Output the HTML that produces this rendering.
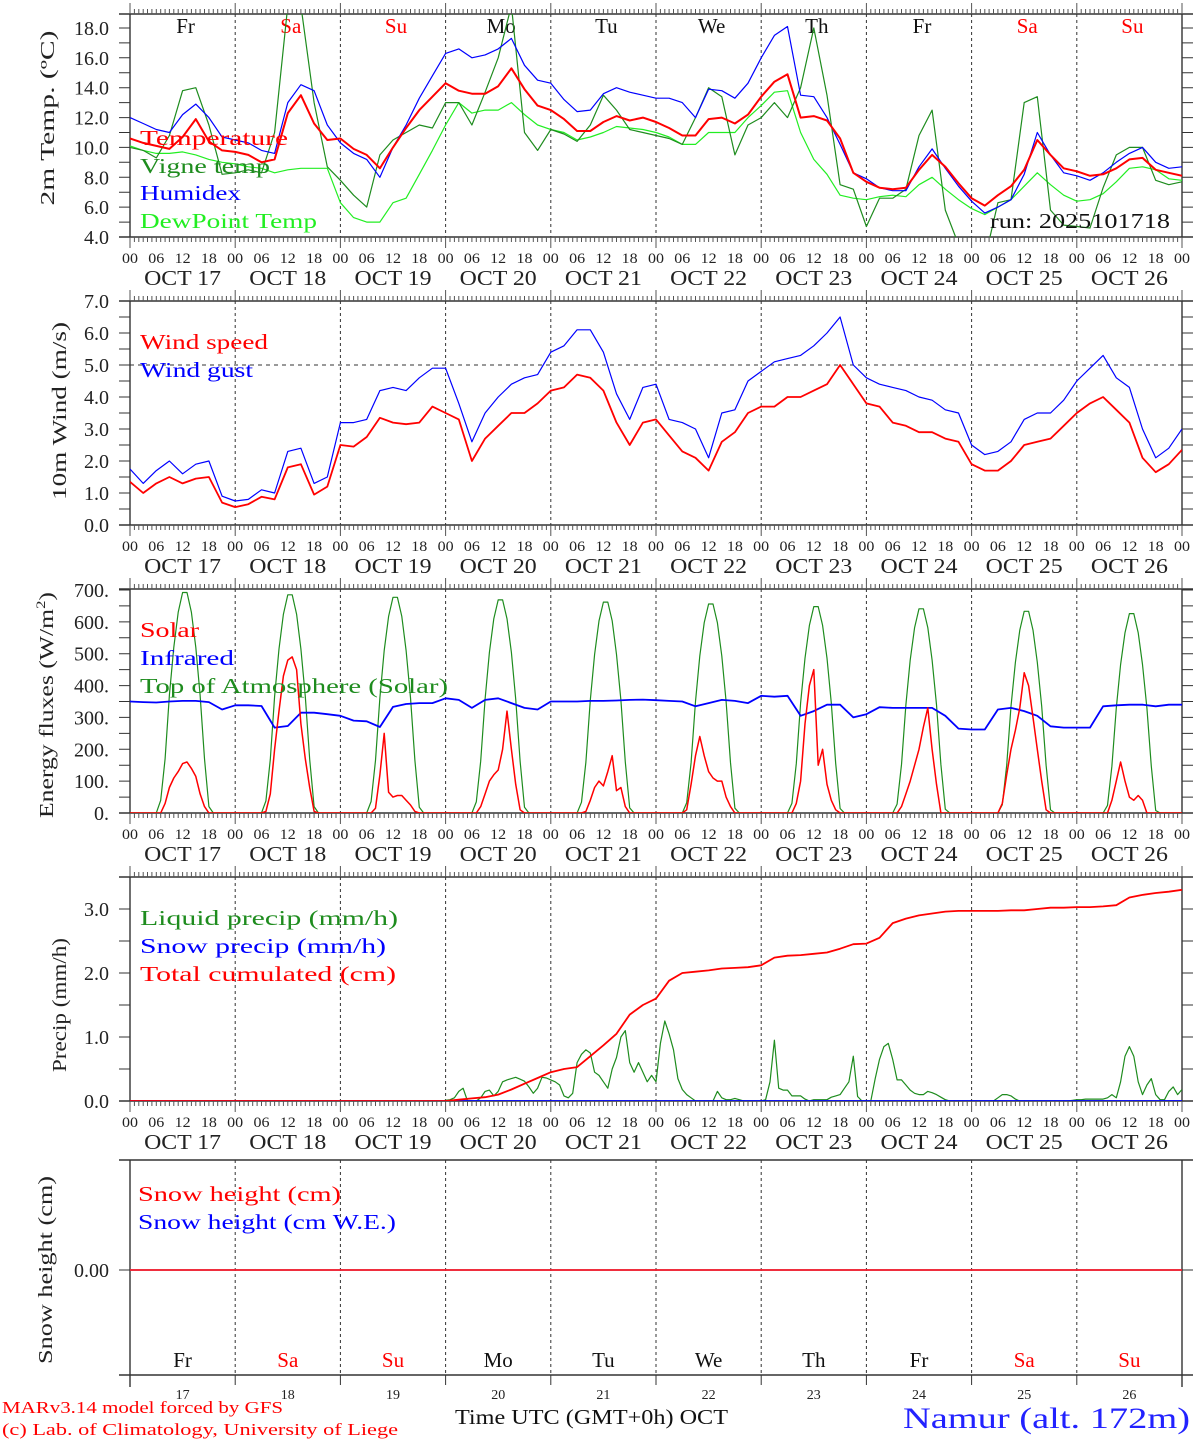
<!DOCTYPE html>
<html>
<head>
<meta charset="utf-8">
<style>
html,body{margin:0;padding:0;background:#fff;}
svg{display:block;font-family:"Liberation Serif",serif;}
</style>
</head>
<body>
<svg id="chart" width="1194" height="1440" viewBox="0 0 1194 1440" xmlns="http://www.w3.org/2000/svg">
<defs>
<clipPath id="c1"><rect x="130" y="14" width="1052" height="223"/></clipPath>
<clipPath id="c2"><rect x="130" y="301" width="1052" height="224"/></clipPath>
<clipPath id="c3"><rect x="130" y="589" width="1052" height="224"/></clipPath>
<clipPath id="c4"><rect x="130" y="877" width="1052" height="224"/></clipPath>
<clipPath id="c5"><rect x="130" y="1160" width="1052" height="215"/></clipPath>
</defs>
<rect x="0" y="0" width="1194" height="1440" fill="#fff"/>
</svg>
<script>
// ---- DATA (3-hourly, h = 0,3,...,240) ----
const dayNames = ['Fr','Sa','Su','Mo','Tu','We','Th','Fr','Sa','Su'];
const dayDates = ['17','18','19','20','21','22','23','24','25','26'];
const hourLabels = ['00','06','12','18'];
const temperature = [10.6,10.3,10.1,9.9,10.7,11.9,10.4,9.8, 9.7,9.5,9.0,9.2,12.3,13.5,11.6,10.5, 10.6,9.9,9.5,8.6,10.0,11.3,12.5,13.4, 14.3,13.8,13.6,13.6,14.1,15.3,13.9,12.8, 12.5,11.9,11.1,11.1,11.7,12.1,11.8,12.0, 11.7,11.3,10.8,10.8,11.9,12.0,11.6,12.2, 13.4,14.4,14.9,12.0,12.1,11.8,10.6,8.3, 7.7,7.3,7.2,7.3,8.5,9.5,8.7,7.6, 6.6,6.1,6.8,7.4,8.5,10.5,9.5,8.6, 8.4,8.1,8.2,8.6,9.2,9.3,8.5,8.3, 8.1];
const vigneTemp = [10.0,9.8,9.3,10.8,13.8,14.0,11.5,8.2, 8.3,8.5,8.3,11.0,19.5,19.5,13.0,8.7, 7.8,6.8,6.0,9.5,10.5,11.0,11.5,11.3, 13.0,13.0,11.5,13.7,16.0,19.5,11.0,9.8, 11.2,10.9,10.4,11.5,13.5,12.5,11.2,11.0, 10.8,10.6,10.2,12.0,14.0,13.4,9.5,11.5, 12.0,13.0,12.0,14.0,18.0,13.5,7.5,7.2, 4.7,6.6,6.6,7.2,10.8,12.5,5.8,3.5, 2.5,2.5,6.3,6.5,13.0,13.4,5.8,4.8, 4.7,4.6,7.3,9.5,10.0,10.0,7.8,7.5, 7.7];
const humidex = [12.0,11.6,11.2,11.0,12.2,12.9,12.0,10.7, 10.5,10.3,9.8,9.6,13.0,14.2,13.8,11.5, 10.3,9.6,9.2,8.0,10.0,11.5,13.3,14.8, 16.3,16.6,16.0,16.2,16.6,17.3,15.5,14.5, 14.3,13.2,12.4,12.5,13.6,14.0,13.7,13.5, 13.3,13.3,13.0,12.0,13.9,13.8,13.3,14.3, 16.0,17.5,18.1,13.5,13.4,12.0,10.2,8.3, 7.9,7.3,7.1,7.1,8.7,9.9,8.6,7.4, 6.4,5.6,6.0,6.5,8.2,11.0,9.5,8.3, 8.1,7.8,8.3,9.0,9.6,10.0,9.0,8.6, 8.7];
const dewPoint = [10.1,9.8,9.6,9.6,9.7,9.5,9.2,9.0, 8.9,8.7,8.6,8.3,8.5,8.6,8.6,8.6, 6.3,5.3,5.0,5.0,6.3,6.6,8.2,9.8, 11.5,13.0,12.3,12.5,12.5,13.0,12.2,11.5, 11.2,11.0,10.5,10.7,11.0,11.4,11.3,11.2, 11.0,10.7,10.2,10.2,11.0,11.0,11.0,12.0, 12.8,13.7,13.8,11.0,9.2,8.2,6.8,6.6, 6.5,6.7,6.8,6.7,7.5,8.0,7.2,6.5, 5.9,5.5,6.0,6.5,7.4,8.3,7.5,6.8, 6.4,6.5,6.9,7.7,8.6,8.7,8.5,7.9, 7.8];
const windSpeed = [1.35,1.0,1.3,1.5,1.3,1.45,1.5,0.7, 0.56,0.65,0.88,0.8,1.8,1.9,0.95,1.2, 2.5,2.45,2.75,3.35,3.2,3.15,3.2,3.7, 3.5,3.3,2.0,2.7,3.1,3.5,3.5,3.8, 4.2,4.3,4.7,4.6,4.2,3.2,2.5,3.2, 3.3,2.8,2.3,2.1,1.7,2.6,2.9,3.5, 3.7,3.7,4.0,4.0,4.2,4.4,5.0,4.4, 3.8,3.7,3.2,3.1,2.9,2.9,2.7,2.6, 1.9,1.7,1.7,2.0,2.5,2.6,2.7,3.1, 3.5,3.8,4.0,3.6,3.2,2.1,1.65,1.9, 2.35];
const windGust = [1.75,1.3,1.7,2.0,1.6,1.9,2.0,0.9, 0.75,0.8,1.1,1.0,2.3,2.4,1.3,1.5, 3.2,3.2,3.3,4.2,4.3,4.2,4.6,4.9, 4.9,3.8,2.6,3.5,4.0,4.4,4.6,4.7, 5.4,5.6,6.1,6.1,5.4,4.1,3.3,4.3, 4.4,3.3,3.2,3.0,2.1,3.5,3.6,4.5, 4.8,5.1,5.2,5.3,5.6,6.0,6.5,5.0, 4.6,4.4,4.3,4.2,4.0,3.9,3.6,3.5, 2.5,2.2,2.3,2.6,3.3,3.5,3.5,3.9, 4.5,4.9,5.3,4.6,4.3,3.0,2.1,2.4, 3.0];
const infrared = [350,348,347,350,352,352,348,325, 338,338,336,268,273,315,315,310, 305,290,288,270,333,342,345,345, 360,355,330,355,360,345,330,325, 350,350,350,352,352,353,355,356, 354,352,350,335,345,355,352,345, 368,365,368,305,320,340,340,300, 310,332,330,330,330,330,305,265, 262,262,325,330,320,305,272,268, 268,268,335,338,340,340,335,340, 340];
const totalCumulated = [0,0,0,0,0,0,0,0, 0,0,0,0,0,0,0,0, 0,0,0,0,0,0,0,0, 0,0.02,0.04,0.06,0.1,0.18,0.27,0.36, 0.45,0.5,0.53,0.7,0.87,1.05,1.35,1.5, 1.6,1.88,2.0,2.02,2.04,2.07,2.08,2.09, 2.12,2.24,2.27,2.28,2.3,2.32,2.38,2.45, 2.46,2.55,2.78,2.85,2.9,2.93,2.96,2.97, 2.97,2.97,2.97,2.98,2.98,3.0,3.02,3.02, 3.03,3.03,3.04,3.06,3.18,3.22,3.25,3.27, 3.3];
// hourly liquid precipitation, one row per day (h0..h23), plus final h240
const liquidD0 = [0,0,0,0,0,0,0,0,0,0,0,0,0,0,0,0,0,0,0,0,0,0,0,0];
const liquidD1 = [0,0,0,0,0,0,0,0,0,0,0,0,0,0,0,0,0,0,0,0,0,0,0,0];
const liquidD2 = [0,0,0,0,0,0,0,0,0,0,0,0,0,0,0,0,0,0,0,0,0,0,0,0];
const liquidD3 = [0.01,0.02,0.05,0.15,0.2,0,0,0,0.05,0.15,0.17,0.08,0.15,0.3,0.33,0.35,0.37,0.34,0.31,0.22,0.12,0.2,0.37,0.36];
const liquidD4 = [0.33,0.3,0.25,0.08,0.05,0.12,0.6,0.73,0.8,0.75,0.45,0.4,0.3,0.2,0.5,0.68,1.0,1.1,0.6,0.45,0.6,0.45,0.3,0.4];
const liquidD5 = [0.3,0.9,1.25,1.05,0.8,0.35,0.18,0.1,0.05,0,0,0,0,0,0.15,0.05,0.02,0.02,0.04,0.02,0,0,0,0];
const liquidD6 = [0,0.02,0.3,0.95,0.2,0.17,0.17,0.08,0.08,0.08,0.03,0,0.02,0.02,0.02,0.02,0.06,0.08,0.1,0.2,0.3,0.7,0.07,0];
const liquidD7 = [0,0,0.35,0.65,0.85,0.9,0.65,0.33,0.33,0.25,0.17,0.12,0.1,0.1,0.15,0.13,0.1,0.06,0.02,0,0,0,0,0];
const liquidD8 = [0,0,0,0,0,0,0.05,0.1,0.1,0.08,0.03,0,0,0,0,0,0,0,0,0,0,0,0,0.01];
const liquidD9 = [0.02,0.02,0.03,0.03,0.03,0.03,0.03,0.05,0.1,0.05,0.3,0.7,0.85,0.7,0.3,0.1,0.25,0.35,0.1,0.02,0.02,0.15,0.22,0.1];
const liquidLast = 0.18;
const snowPrecip = [0,0];   // flat zero series (start, end)
const snowHeight = [0,0];
// hourly solar / TOA values from 06 to 18 UTC for each day
const solarDays = [
 [0,0,30,80,110,130,155,160,140,115,60,20,0],
 [0,5,60,200,320,430,480,490,450,280,170,80,5],
 [0,0,15,120,250,65,50,55,55,40,25,5,0],
 [0,0,20,60,100,120,135,200,320,200,90,10,0],
 [0,0,5,40,80,100,85,130,180,70,80,20,0],
 [0,10,90,180,240,180,130,110,100,100,50,20,0],
 [0,0,30,100,280,400,450,150,200,90,40,10,0],
 [0,0,20,60,100,150,200,270,330,200,90,0,0],
 [0,30,120,200,260,330,440,400,300,200,100,10,0],
 [0,0,40,100,160,100,50,40,55,40,0,0,0]];
const toaDays = [
 [0,40,170,370,520,630,692,692,630,520,370,170,20],
 [0,38,168,366,515,624,685,685,624,515,366,168,20],
 [0,36,165,362,510,617,677,677,617,510,362,165,18],
 [0,35,163,358,504,610,669,669,610,504,358,163,18],
 [0,34,160,354,498,603,662,662,603,498,354,160,16],
 [0,32,158,350,493,597,656,656,597,493,350,158,15],
 [0,30,155,345,486,589,648,648,589,486,345,155,14],
 [0,28,152,340,480,582,641,641,582,480,340,152,12],
 [0,26,150,335,473,574,633,633,574,473,335,150,10],
 [0,24,147,330,466,566,626,626,566,466,330,147,8]];

const NS='http://www.w3.org/2000/svg';
const svg=document.getElementById('chart');
const X0=130, X1=1182;
function xh(h){return X0+h*(X1-X0)/240;}
const y1=v=>237-(v-4)*14.93;
const y2=v=>525-v*32;
const y3=v=>813-v*0.31857;
const y4=v=>1101-v*64;
const y5=v=>1270-v*100;
const panels=[{top:14,bot:237,clip:'c1'},{top:301,bot:525,clip:'c2'},{top:589,bot:813,clip:'c3'},{top:877,bot:1101,clip:'c4'},{top:1160,bot:1375,clip:'c5'}];

function mk(tag,attrs){const e=document.createElementNS(NS,tag);for(const k in attrs)e.setAttribute(k,attrs[k]);svg.appendChild(e);return e;}
function txt(x,y,s,o){o=o||{};const e=mk('text',{x:x,y:y,'font-size':o.size||19,fill:o.fill||'#222','text-anchor':o.anchor||'start'});
 if(o.len){e.setAttribute('textLength',o.len);e.setAttribute('lengthAdjust','spacingAndGlyphs');}
 if(o.rot){e.setAttribute('transform','rotate(-90 '+x+' '+y+')');}
 e.textContent=s;return e;}

function seriesPath(vals,step,ys,color,w,clip,name){
 let d='';vals.forEach((v,i)=>{d+=(i?'L':'M')+xh(i*step).toFixed(1)+' '+ys(v).toFixed(1);});
 const p=mk('path',{d:d,fill:'none',stroke:color,'stroke-width':w,'clip-path':'url(#'+clip+')','stroke-linejoin':'round'});
 
 
 return p;}
function expandDays(days){const out=[];for(let h=0;h<=240;h++)out.push(0);days.forEach((row,d)=>row.forEach((v,i)=>{out[d*24+6+i]=v;}));return out;}

// ---- frames, ticks, grid ----
const yScales=[y1,y2,y3,y4,y5];
const yTicks=[{from:4,to:18,step:1,lab:2,fmt:v=>v.toFixed(1)},{from:0,to:7,step:0.5,lab:1,fmt:v=>v.toFixed(1)},{from:0,to:700,step:50,lab:100,fmt:v=>v.toFixed(0)+'.'},{from:0,to:3.5,step:0.5,lab:1,fmt:v=>v.toFixed(1)},{from:0,to:0,step:1,lab:1,fmt:v=>v.toFixed(2)}];
panels.forEach((p,pi)=>{
 const ys=yScales[pi];
 for(let d=1;d<10;d++){const x=xh(d*24);
  const l=mk('line',{x1:x,y1:p.top,x2:x,y2:p.bot,stroke:'#333','stroke-width':1,'stroke-dasharray':'3,3'});
  
  }
 const fr=mk('path',{d:'M119 '+p.top+'H1193M119 '+p.bot+'H1193M130 '+(p.top)+'V'+(pi===4?p.bot+12:p.bot)+'M1182 '+p.top+'V'+(pi===4?p.bot+12:p.bot),stroke:'#333','stroke-width':1.4,fill:'none'});
 
 
 if(pi<4){
  for(let h=0;h<=240;h++){const x=xh(h);const L=(h%24===0)?11:5;
   const t=mk('path',{d:'M'+x.toFixed(1)+' '+p.bot+'v'+L+'M'+x.toFixed(1)+' '+p.top+'v'+(-L),stroke:'#555','stroke-width':1});
   
   }
  for(let h=0;h<=240;h+=6){const t=txt(xh(h),p.bot+26,hourLabels[(h/6)%4],{size:15,anchor:'middle',len:16});
   
   }
  dayDates.forEach((dd,d)=>{const t=txt(xh(d*24+12),p.bot+48,'OCT '+dd,{size:21,anchor:'middle',len:77});
   
   });
 } else {
  for(let d=0;d<=10;d++){const x=xh(d*24);
   const t=mk('line',{x1:x,y1:p.bot,x2:x,y2:p.bot+10,stroke:'#333','stroke-width':1});
   
   }
 }
 const yt=yTicks[pi];
 for(let v=yt.from;v<=yt.to+1e-9;v+=yt.step){const y=ys(v);
  const t=mk('path',{d:'M119 '+y.toFixed(1)+'H130M1182 '+y.toFixed(1)+'H1193',stroke:'#333','stroke-width':1});
  
  
  if(Math.abs(v/yt.lab-Math.round(v/yt.lab))<1e-6){const l=txt(109,y+7,yt.fmt(v),{size:20,anchor:'end'});
   
   }
 }
});
dayNames.forEach((n,d)=>{const c=(n==='Sa'||n==='Su')?'#f00':'#111';
 const a=txt(xh(d*24+12)+3,33,n,{size:21,anchor:'middle',fill:c});
 
 
 const b=txt(xh(d*24+12),1367,n,{size:21,anchor:'middle',fill:c});
 
 
 const c2=txt(xh(d*24+12),1399,dayDates[d],{size:14,anchor:'middle'});
 
 });

// ---- series ----
seriesPath(dewPoint,3,y1,'#22ee22',1.2,'c1','dewpoint-line');
seriesPath(vigneTemp,3,y1,'#1e8c1e',1.2,'c1','vigne-temp-line');
seriesPath(humidex,3,y1,'#0000ff',1.2,'c1','humidex-line');
seriesPath(temperature,3,y1,'#ff0000',2,'c1','temperature-line');

const g5=mk('line',{x1:130,y1:y2(5),x2:1182,y2:y2(5),stroke:'#333','stroke-width':1,'stroke-dasharray':'4,4'});


seriesPath(windGust,3,y2,'#0000ff',1.2,'c2','wind-gust-line');
seriesPath(windSpeed,3,y2,'#ff0000',1.8,'c2','wind-speed-line');

seriesPath(expandDays(toaDays),1,y3,'#1e8c1e',1.2,'c3','toa-solar-line');
seriesPath(infrared,3,y3,'#0000ff',1.8,'c3','infrared-line');
seriesPath(expandDays(solarDays),1,y3,'#ff0000',1.5,'c3','solar-line');

const liquid=[].concat(liquidD0,liquidD1,liquidD2,liquidD3,liquidD4,liquidD5,liquidD6,liquidD7,liquidD8,liquidD9,[liquidLast]);
seriesPath(liquid,1,y4,'#1e8c1e',1.2,'c4','liquid-precip-line');
seriesPath(snowPrecip,240,y4,'#0000ff',1.8,'c4','snow-precip-line');
seriesPath(totalCumulated,3,y4,'#ff0000',1.8,'c4','total-cumulated-line');

seriesPath(snowHeight,240,y5,'#0000ff',1.5,'c5','snow-we-line');
seriesPath(snowHeight,240,y5,'#ff2222',1.8,'c5','snow-height-line');

// ---- legends & labels ----
function lab(x,y,s,c,len,name,size){const t=txt(x,y,s,{size:size||21,fill:c,len:len});
 
 return t;}
lab(140,145,'Temperature','#ff0000',148,'legend-temperature');
lab(140,173,'Vigne temp','#1e8c1e',130,'legend-vigne-temp');
lab(140,200,'Humidex','#0000ff',101,'legend-humidex');
lab(140,228,'DewPoint Temp','#22ee22',177,'legend-dewpoint');
lab(990,228,'run: 2025101718','#111',180,'run-label');
lab(140,349,'Wind speed','#ff0000',128,'legend-wind-speed');
lab(140,377,'Wind gust','#0000ff',113,'legend-wind-gust');
lab(140,637,'Solar','#ff0000',59,'legend-solar');
lab(140,665,'Infrared','#0000ff',94,'legend-infrared');
lab(140,693,'Top of Atmosphere (Solar)','#1e8c1e',308,'legend-toa');
lab(140,925,'Liquid precip (mm/h)','#1e8c1e',258,'legend-liquid-precip');
lab(140,953,'Snow precip (mm/h)','#0000ff',246,'legend-snow-precip');
lab(140,981,'Total cumulated (cm)','#ff0000',256,'legend-total-cumulated');
lab(138,1201,'Snow height (cm)','#ff0000',203,'legend-snow-height');
lab(138,1229,'Snow height (cm W.E.)','#0000ff',258,'legend-snow-we');

function ytitle(x,cy,s,len,name){const t=txt(x,cy,s,{size:20,anchor:'middle',rot:true,len:len});
 
 return t;}
ytitle(54,118,'2m Temp. (ºC)',175,'y-axis-title-temp');
ytitle(66,411,'10m Wind (m/s)',178,'y-axis-title-wind');
const et=ytitle(53,705,'Energy fluxes (W/m',226,'y-axis-title-energy');
const sup=document.createElementNS(NS,'tspan');sup.setAttribute('font-size','13');sup.setAttribute('dy','-8');sup.textContent='2';et.appendChild(sup);
const sup2=document.createElementNS(NS,'tspan');sup2.setAttribute('dy','8');sup2.textContent=')';et.appendChild(sup2);
ytitle(66,1005,'Precip (mm/h)',134,'y-axis-title-precip');
ytitle(52,1270,'Snow height (cm)',188,'y-axis-title-snow');

lab(2,1413,'MARv3.14 model forced by GFS','#ff0000',281,'footer-model',17);
lab(2,1435,'(c) Lab. of Climatology, University of Liege','#ff0000',396,'footer-credit',17);
lab(455,1424,'Time UTC (GMT+0h) OCT','#111',273,'x-axis-title',21);
lab(903,1428,'Namur (alt. 172m)','#2222ff',287,'station-title',30);
</script>
</body>
</html>
